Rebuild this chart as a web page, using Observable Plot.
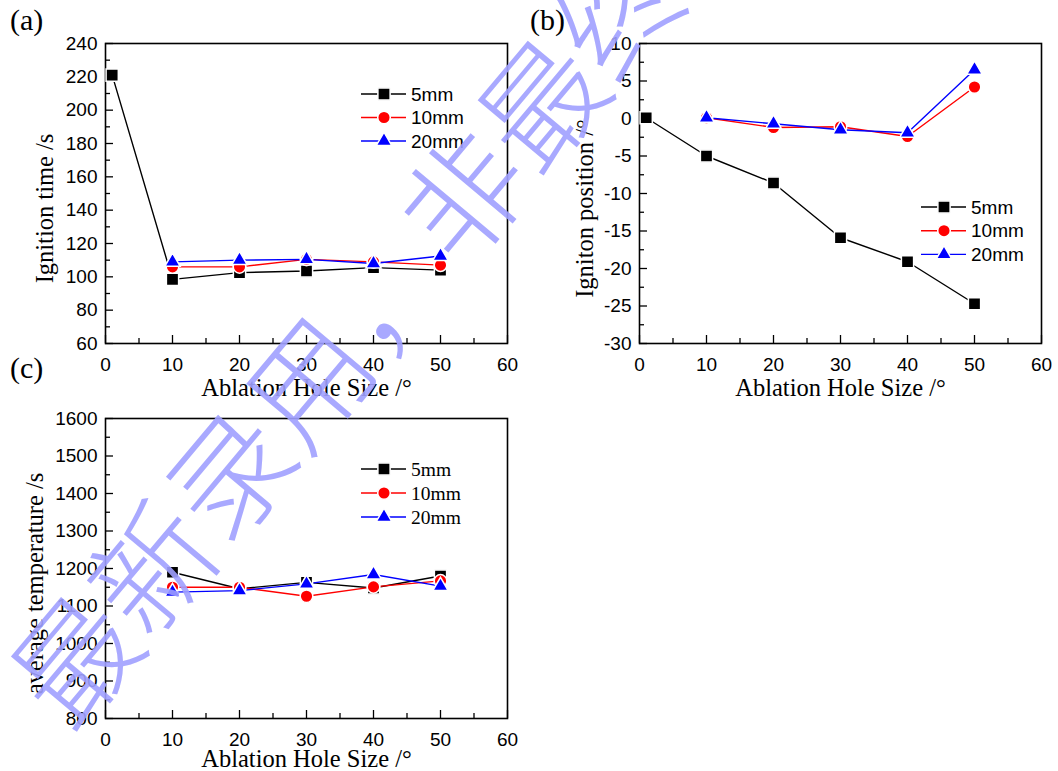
<!DOCTYPE html>
<html>
<head>
<meta charset="utf-8">
<script src="https://cdn.jsdelivr.net/npm/d3@7"></script>
<script src="https://cdn.jsdelivr.net/npm/@observablehq/plot@0.6"></script>
<style>
  body { margin: 0; background: #fff; }
  #figure { position: relative; width: 1058px; height: 771px; background: #fff; overflow: hidden; }
  #figure svg { position: absolute; }
  .tag { position: absolute; font-family: "Liberation Serif", "Times New Roman", serif; font-size: 30px; line-height: 1; color: #000; }
</style>
</head>
<body>
<div id="figure"></div>
<script>
// ---- data -------------------------------------------------------------
const seriesNames   = ["5mm", "10mm", "20mm"];
const seriesColors  = ["#000000", "#ff0000", "#0000ff"];
const seriesSymbols = ["square", "circle", "triangle"];
const symbolRadius  = {square: 6.9, circle: 6.3, triangle: 5.7};

const holeSize5mm = [1, 10, 20, 30, 40, 50];   // 5mm series starts at 1°
const holeSize    = [10, 20, 30, 40, 50];

// (a) ignition time, s
const ignitionTime5mm  = [221, 98.5, 102.5, 103.5, 105.5, 104];
const ignitionTime10mm = [106, 106, 110.5, 109, 107];
const ignitionTime20mm = [109, 110, 110.5, 108, 112.5];

// (b) ignition position, °
const ignitionPos5mm  = [0.1, -5, -8.6, -15.9, -19.1, -24.7];
const ignitionPos10mm = [0.1, -1.2, -1.1, -2.4, 4.2];
const ignitionPos20mm = [0.1, -0.7, -1.5, -1.9, 6.5];

// (c) average temperature
const avgTemp5mm  = [1190, 1146, 1163, 1148, 1180];
const avgTemp10mm = [1150, 1150, 1126, 1151, 1167];
const avgTemp20mm = [1137, 1141, 1159, 1184, 1153];

// axes
const xTicks      = [0, 10, 20, 30, 40, 50, 60];
const xMinorTicks = [5, 15, 25, 35, 45, 55];
const xTitle = "Ablation Hole Size /°";

const ticksA = [60, 80, 100, 120, 140, 160, 180, 200, 220, 240];
const minorA = [70, 90, 110, 130, 150, 170, 190, 210, 230];
const ticksB = [-30, -25, -20, -15, -10, -5, 0, 5, 10];
const minorB = [-27.5, -22.5, -17.5, -12.5, -7.5, -2.5, 2.5, 7.5];
const ticksC = [800, 900, 1000, 1100, 1200, 1300, 1400, 1500, 1600];
const minorC = [850, 950, 1050, 1150, 1250, 1350, 1450, 1550];

const watermarkText = "最新录用，非最终版";

// ---- helpers -----------------------------------------------------------
const sans = "'Liberation Sans', Arial, sans-serif";
const serif = "'Liberation Serif', 'Times New Roman', serif";
const figure = document.getElementById("figure");

function toRows(xs, ys, s) {
  return xs.map((x, i) => ({x, y: ys[i], s}));
}

function panel({series, yDomain, yTicks, yMinor, yTitle, left, top, width, height, margin, yTitleDx, xTitleDy}) {
  const frameW = width - margin.left - margin.right;
  const frameH = height - margin.top - margin.bottom;
  const marks = [
    Plot.tickX(xTicks, {x: d => d, insetTop: frameH - 8, stroke: "black", strokeWidth: 1.3}),
    Plot.tickX(xMinorTicks, {x: d => d, insetTop: frameH - 5, stroke: "black", strokeWidth: 1.3}),
    Plot.tickY(yTicks, {y: d => d, insetRight: frameW - 8, stroke: "black", strokeWidth: 1.3}),
    Plot.tickY(yMinor, {y: d => d, insetRight: frameW - 5, stroke: "black", strokeWidth: 1.3}),
    Plot.axisX({ticks: xTicks, tickSize: 0, tickPadding: 14, label: null, tickFormat: d => String(d)}),
    Plot.axisY({ticks: yTicks, tickSize: 0, tickPadding: 8, label: null, tickFormat: d => String(d)}),
    Plot.frame({stroke: "black", strokeWidth: 1.6}),
    Plot.text([xTitle], {frameAnchor: "bottom", dy: xTitleDy, lineAnchor: "middle", textAnchor: "middle",
      text: d => d, fontFamily: serif, fontSize: 24.5}),
    Plot.text([yTitle], {frameAnchor: "left", dx: yTitleDx, dy: 15, rotate: -90, lineAnchor: "middle", textAnchor: "middle",
      text: d => d, fontFamily: serif, fontSize: 24.5})
  ];
  series.forEach((rows, k) => {
    marks.push(Plot.line(rows, {x: "x", y: "y", stroke: seriesColors[k], strokeWidth: 1.4}));
  });
  series.forEach((rows, k) => {
    marks.push(Plot.dot(rows, {
      x: "x", y: "y", symbol: () => seriesSymbols[k], r: symbolRadius[seriesSymbols[k]],
      fill: seriesColors[k], stroke: "white", strokeWidth: 1.5
    }));
  });
  const svg = Plot.plot({
    width, height,
    marginLeft: margin.left, marginRight: margin.right,
    marginTop: margin.top, marginBottom: margin.bottom,
    x: {domain: [0, 60]},
    y: {domain: yDomain},
    symbol: {type: "identity"},
    style: {background: "transparent", fontFamily: sans, fontSize: "19px", color: "black", overflow: "visible"},
    marks
  });
  svg.style.left = left + "px";
  svg.style.top = top + "px";
  figure.appendChild(svg);
}

function legend({left, top, rowGap, font, size}) {
  const w = 130, h = rowGap * 3 + 10;
  const svg = d3.select(figure).append("svg")
    .attr("width", w).attr("height", h)
    .style("left", left + "px").style("top", top + "px");
  seriesNames.forEach((name, k) => {
    const g = svg.append("g").attr("transform", `translate(0,${10 + k * rowGap})`);
    g.append("line").attr("x1", 0).attr("x2", 45).attr("y1", 0).attr("y2", 0)
      .attr("stroke", seriesColors[k]).attr("stroke-width", 1.4);
    const sym = {square: d3.symbolSquare, circle: d3.symbolCircle, triangle: d3.symbolTriangle}[seriesSymbols[k]];
    const r = symbolRadius[seriesSymbols[k]];
    g.append("path").attr("transform", "translate(23,0)")
      .attr("d", d3.symbol(sym, r * r * Math.PI)())
      .attr("fill", seriesColors[k]).attr("stroke", "white").attr("stroke-width", 1.5);
    g.append("text").attr("x", 50).attr("y", 0).attr("dy", "0.35em")
      .attr("font-family", font).attr("font-size", size).text(name);
  });
}

function tag(text, left, top) {
  const d = document.createElement("div");
  d.className = "tag";
  d.textContent = text;
  d.style.left = left + "px";
  d.style.top = top + "px";
  figure.appendChild(d);
}

// ---- panels ------------------------------------------------------------
panel({
  series: [toRows(holeSize5mm, ignitionTime5mm, 0), toRows(holeSize, ignitionTime10mm, 1), toRows(holeSize, ignitionTime20mm, 2)],
  yDomain: [60, 240], yTicks: ticksA, yMinor: minorA, yTitle: "Ignition time /s",
  left: 0, top: 0, width: 520, height: 400,
  margin: {left: 105, right: 13, top: 43, bottom: 57}, yTitleDx: -60, xTitleDy: 45
});
panel({
  series: [toRows(holeSize5mm, ignitionPos5mm, 0), toRows(holeSize, ignitionPos10mm, 1), toRows(holeSize, ignitionPos20mm, 2)],
  yDomain: [-30, 10], yTicks: ticksB, yMinor: minorB, yTitle: "Igniton position /°",
  left: 520, top: 0, width: 538, height: 400,
  margin: {left: 119, right: 17, top: 43, bottom: 57}, yTitleDx: -54, xTitleDy: 45
});
panel({
  series: [toRows(holeSize, avgTemp5mm, 0), toRows(holeSize, avgTemp10mm, 1), toRows(holeSize, avgTemp20mm, 2)],
  yDomain: [800, 1600], yTicks: ticksC, yMinor: minorC, yTitle: "average temperature /s",
  left: 0, top: 360, width: 520, height: 411,
  margin: {left: 105, right: 13, top: 58, bottom: 53}, yTitleDx: -70, xTitleDy: 41
});

legend({left: 361, top: 84, rowGap: 23.5, font: sans, size: 19});
legend({left: 921, top: 197, rowGap: 23.7, font: sans, size: 19});
legend({left: 361, top: 459, rowGap: 24, font: serif, size: 19.5});

tag("(a)", 10, 5);
tag("(b)", 530, 5);
tag("(c)", 10, 353);

// ---- diagonal watermark ------------------------------------------------
const wm = d3.select(figure).append("svg")
  .attr("width", 1058).attr("height", 771)
  .style("left", "0px").style("top", "0px")
  .style("pointer-events", "none");
wm.append("text")
  .attr("x", 31).attr("y", 702)
  .attr("transform", "rotate(-50 31 702)")
  .attr("dominant-baseline", "central")
  .attr("font-family", "'Noto Sans CJK SC', sans-serif")
  .attr("font-weight", 200)
  .attr("font-size", 121)
  .attr("fill", "#a0a0ff")
  .attr("fill-opacity", 0.9)
  .text(watermarkText);
</script>
</body>
</html>
